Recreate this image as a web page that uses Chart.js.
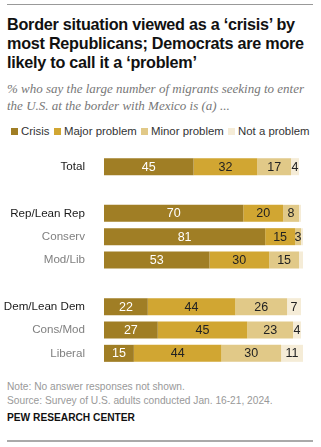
<!DOCTYPE html>
<html>
<head>
<meta charset="utf-8">
<script src="https://cdn.jsdelivr.net/npm/chart.js@4"></script>
<style>
  html, body { margin: 0; padding: 0; background: #fff; }
  body { width: 321px; height: 447px; position: relative; overflow: hidden; font-family: "Liberation Sans", Arial, sans-serif; }
  .rule { position: absolute; left: 7px; width: 306px; height: 1px; background: #999; }
  h1 { position: absolute; left: 7px; top: 15px; width: 312px; margin: 0; font-size: 16.2px; line-height: 19px; font-weight: bold; color: #111; letter-spacing: -0.25px; }
  .sub { position: absolute; left: 7px; top: 80px; width: 314px; margin: 0; font-family: "Liberation Serif", serif; font-style: italic; font-size: 13px; line-height: 17px; color: #777; }
  .legend { position: absolute; left: 0; top: 125px; width: 321px; height: 14px; font-size: 11.4px; color: #333; white-space: nowrap; }
  .legend span { position: absolute; top: 0; }
  .legend i { display: inline-block; width: 7px; height: 7px; margin-right: 3px; }
  #wrap { position: absolute; left: 0; top: 155px; width: 321px; height: 210px; }
  .note { position: absolute; left: 7px; top: 380px; font-size: 10.2px; line-height: 13.5px; color: #999; }
  .pew { position: absolute; left: 7px; top: 412px; font-size: 10.2px; font-weight: bold; color: #111; }
</style>
</head>
<body>
<div class="rule" style="top:4px"></div>
<h1>Border situation viewed as a ‘crisis’ by most Republicans; Democrats are more likely to call it a ‘problem’</h1>
<p class="sub">% who say the large number of migrants seeking to enter the U.S. at the border with Mexico is (a) ...</p>
<div class="legend">
  <span style="left:11px"><i style="background:#a07e25"></i>Crisis</span>
  <span style="left:54px"><i style="background:#d1a632"></i>Major problem</span>
  <span style="left:141px"><i style="background:#e1c988"></i>Minor problem</span>
  <span style="left:228px"><i style="background:#f5ecd7"></i>Not a problem</span>
</div>
<div id="wrap"><canvas id="myChart"></canvas></div>
<div class="note">Note: No answer responses not shown.<br>Source: Survey of U.S. adults conducted Jan. 16-21, 2024.</div>
<div class="pew">PEW RESEARCH CENTER</div>
<div class="rule" style="top:440px;background:#aaa;height:2px"></div>

<script>
// groups, with blank rows as spacers between blocks
const categories = ['Total', '', 'Rep/Lean Rep', 'Conserv', 'Mod/Lib', '', 'Dem/Lean Dem', 'Cons/Mod', 'Liberal'];
const crisis = [45, null, 70, 81, 53, null, 22, 27, 15];
const majorProblem = [32, null, 20, 15, 30, null, 44, 45, 44];
const minorProblem = [17, null, 8, 3, 15, null, 26, 23, 30];
const notProblem = [4, null, 1, 1, 2, null, 7, 4, 11];
const subGroups = ['Conserv', 'Mod/Lib', 'Cons/Mod', 'Liberal'];

const colors = ['#a07e25', '#d1a632', '#e1c988', '#f5ecd7'];
const textColors = ['#fff', '#222', '#222', '#222'];

// writes each value in the middle of its segment
const segmentLabels = {
    id: 'segmentLabels',
    afterDatasetsDraw(chart) {
        const ctx = chart.ctx;
        ctx.save();
        ctx.font = '12.5px "Liberation Sans", Arial, sans-serif';
        ctx.textAlign = 'center';
        ctx.textBaseline = 'middle';
        chart.data.datasets.forEach((ds, i) => {
            chart.getDatasetMeta(i).data.forEach((bar, j) => {
                const v = ds.data[j];
                if (v == null || v < 3) return;
                ctx.fillStyle = textColors[i];
                ctx.fillText(v, (bar.x + bar.base) / 2, bar.y + 0.5);
            });
        });
        ctx.restore();
    }
};

const ctx = document.getElementById('myChart').getContext('2d');
new Chart(ctx, {
    type: 'bar',
    data: {
        labels: categories,
        datasets: [
            { label: 'Crisis', data: crisis },
            { label: 'Major problem', data: majorProblem },
            { label: 'Minor problem', data: minorProblem },
            { label: 'Not a problem', data: notProblem }
        ].map((d, i) => ({
            ...d,
            backgroundColor: colors[i],
            borderWidth: 0,
            barPercentage: 0.73,
            categoryPercentage: 1
        }))
    },
    plugins: [segmentLabels],
    options: {
        indexAxis: 'y',
        responsive: true,
        maintainAspectRatio: false,
        animation: false,
        layout: { padding: { left: 0, right: 18, top: 0, bottom: 0 } },
        plugins: {
            legend: { display: false },
            tooltip: { enabled: false }
        },
        scales: {
            x: {
                stacked: true,
                min: 0,
                max: 100,
                display: false
            },
            y: {
                stacked: true,
                grid: { display: false },
                border: { display: false },
                afterFit: (scale) => {
                    scale.width = 104;
                    // rows fill the full canvas height
                    scale.paddingTop = 0;
                    scale.paddingBottom = 0;
                },
                ticks: {
                    padding: 11,
                    font: { size: 11.6, family: '"Liberation Sans", Arial, sans-serif' },
                    color: (c) => subGroups.includes(categories[c.index]) ? '#808080' : '#1a1a1a'
                }
            }
        }
    }
});
</script>
</body>
</html>
